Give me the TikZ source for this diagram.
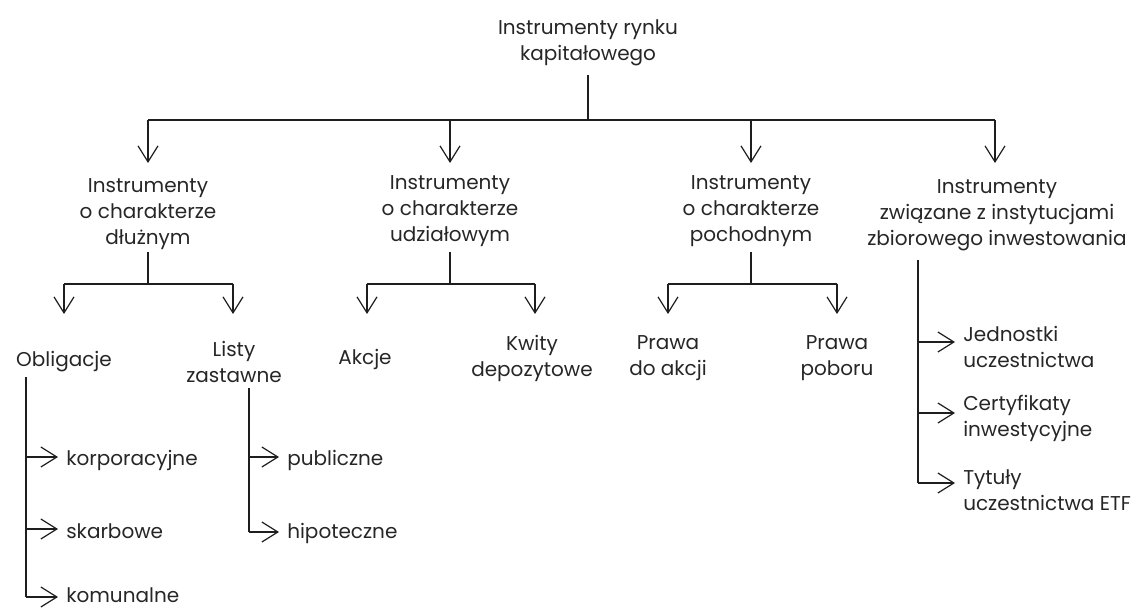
\documentclass[tikz,border=0pt]{standalone}
\usepackage{fontspec}
\setmainfont{Poppins}
\usetikzlibrary{arrows.meta}
\definecolor{txt}{HTML}{262626}
\definecolor{ln}{HTML}{1E1E1E}
\begin{document}
\begin{tikzpicture}[x=0.75pt,y=-0.75pt,
  lbl/.style={inner sep=0pt, align=center, text=txt, font=\fontsize{15pt}{19.5pt}\selectfont},
  lft/.style={lbl, align=left, anchor=west},
  conn/.style={draw=ln, line width=0.9pt},
  arr/.style={conn, -{Straight Barb[length=12pt,width=15pt,line width=0.9pt]}},
  harr/.style={arr, shorten >=6pt}]
\useasboundingbox (0,0) rectangle (1139,610);
% root
\node[lbl] (r) at (588,43) {Instrumenty rynku\\kapitałowego};
\coordinate (r0) at (588,75);
\coordinate (rb) at (588,120);
\coordinate (b1) at (148,120);
\coordinate (b2) at (450,120);
\coordinate (b3) at (751,120);
\coordinate (b4) at (995,120);
\coordinate (t1) at (148,163);
\coordinate (t2) at (450,163);
\coordinate (t3) at (751,163);
\coordinate (t4) at (995,163);
\draw[conn] (r0) -- (rb);
\draw[conn] (b1) -- (b4);
\draw[arr] (b1) -- (t1);
\draw[arr] (b2) -- (t2);
\draw[arr] (b3) -- (t3);
\draw[arr] (b4) -- (t4);
% level 2
\node[lbl] (d) at (148,214) {Instrumenty\\o charakterze\\dłużnym};
\node[lbl] (u) at (450,211) {Instrumenty\\o charakterze\\udziałowym};
\node[lbl] (p) at (751,211) {Instrumenty\\o charakterze\\pochodnym};
\node[lbl] (z) at (997,215) {Instrumenty\\związane z instytucjami\\zbiorowego inwestowania};
% dluzny branch
\coordinate (d0) at (148,252);
\coordinate (d1) at (148,284);
\coordinate (dl) at (64,284);
\coordinate (dr) at (233,284);
\coordinate (dlt) at (64,314);
\coordinate (drt) at (233,314);
\draw[conn] (d0) -- (d1);
\draw[conn] (dl) -- (dr);
\draw[arr] (dl) -- (dlt);
\draw[arr] (dr) -- (drt);
% udzialowy branch
\coordinate (u0) at (450,252);
\coordinate (u1) at (450,284);
\coordinate (ul) at (367,284);
\coordinate (ur) at (535,284);
\coordinate (ult) at (367,314);
\coordinate (urt) at (535,314);
\draw[conn] (u0) -- (u1);
\draw[conn] (ul) -- (ur);
\draw[arr] (ul) -- (ult);
\draw[arr] (ur) -- (urt);
% pochodny branch
\coordinate (p0) at (751,252);
\coordinate (p1) at (751,284);
\coordinate (pl) at (668,284);
\coordinate (pr) at (837,284);
\coordinate (plt) at (668,314);
\coordinate (prt) at (837,314);
\draw[conn] (p0) -- (p1);
\draw[conn] (pl) -- (pr);
\draw[arr] (pl) -- (plt);
\draw[arr] (pr) -- (prt);
% level 3
\node[lbl] (obl) at (64,362) {Obligacje};
\node[lbl] (lz) at (234,362) {Listy\\zastawne};
\node[lbl] (ak) at (365,359) {Akcje};
\node[lbl] (kw) at (532,358) {Kwity\\depozytowe};
\node[lbl] (pa) at (668,358) {Prawa\\do akcji};
\node[lbl] (pp) at (837,358) {Prawa\\poboru};
% zbiorowe branch
\coordinate (z0) at (918,260);
\coordinate (z1) at (918,342);
\coordinate (z2) at (918,413);
\coordinate (z3) at (918,483);
\node[lft] (j) at (963,347) {Jednostki\\uczestnictwa};
\node[lft] (c) at (963,418) {Certyfikaty\\inwestycyjne};
\node[lft] (t) at (963,490) {Tytuły\\uczestnictwa ETF};
\draw[conn] (z0) -- (z3);
\draw[harr] (z1) -- (j.west|-z1);
\draw[harr] (z2) -- (c.west|-z2);
\draw[harr] (z3) -- (t.west|-z3);
% obligacje branch
\coordinate (o0) at (26,377);
\coordinate (o1) at (26,457);
\coordinate (o2) at (26,529);
\coordinate (o3) at (26,597);
\node[lft] (ko) at (66,460) {korporacyjne};
\node[lft] (sk) at (66,531) {skarbowe};
\node[lft] (km) at (66,595) {komunalne};
\draw[conn] (o0) -- (o3);
\draw[harr] (o1) -- (ko.west|-o1);
\draw[harr] (o2) -- (sk.west|-o2);
\draw[harr] (o3) -- (km.west|-o3);
% listy branch
\coordinate (l0) at (249,388);
\coordinate (l1) at (249,457);
\coordinate (l2) at (249,532);
\node[lft] (pu) at (287,460) {publiczne};
\node[lft] (hi) at (287,533) {hipoteczne};
\draw[conn] (l0) -- (l2);
\draw[harr] (l1) -- (pu.west|-l1);
\draw[harr] (l2) -- (hi.west|-l2);
\end{tikzpicture}
\end{document}
